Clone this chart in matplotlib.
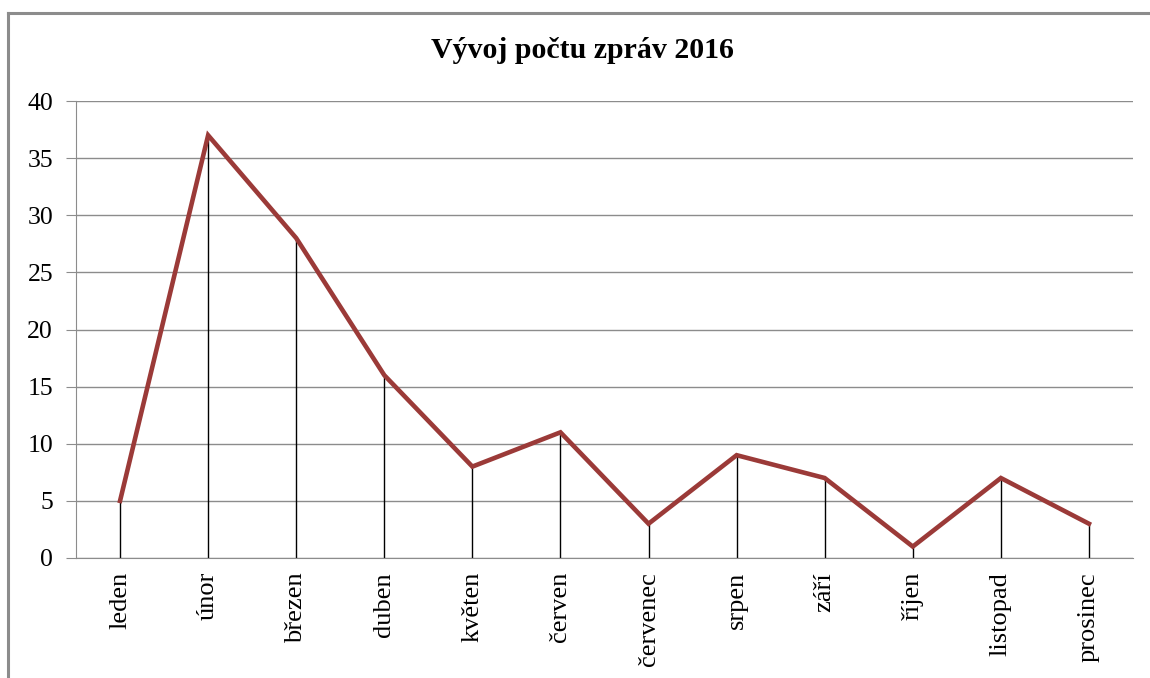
import matplotlib.pyplot as plt
from matplotlib.lines import Line2D

months = ['leden', 'únor', 'březen', 'duben', 'květen', 'červen',
          'červenec', 'srpen', 'září', 'říjen', 'listopad', 'prosinec']
counts = [5, 37, 28, 16, 8, 11, 3, 9, 7, 1, 7, 3]
yticks = [0, 5, 10, 15, 20, 25, 30, 35, 40]

plt.rcParams['font.family'] = ['Liberation Serif', 'DejaVu Serif']

W, H = 1150, 678
fig = plt.figure(figsize=(W / 100, H / 100), dpi=100)

# outer chart frame (top and left visible, rest runs off the picture)
fig.add_artist(Line2D([8 / W, 1.0], [1 - 13 / H, 1 - 13 / H], color='#8c8c8c', lw=2.2))
fig.add_artist(Line2D([8 / W, 8 / W], [0, 1 - 13 / H], color='#8c8c8c', lw=2.2))

ax = fig.add_axes([76 / W, 1 - 558 / H, (1133 - 76) / W, (558 - 101) / H])

x = [i + 0.5 for i in range(len(months))]
ax.vlines(x, 0, counts, color='black', lw=1, zorder=2)
ax.plot(x, counts, color='#9b3a38', lw=3.3, solid_joinstyle='miter', zorder=3)

ax.set_xlim(0, len(months))
ax.set_ylim(0, 40)
ax.set_yticks(yticks)
ax.set_xticks(x)
ax.set_xticklabels(months, rotation=90, fontsize=19)
ax.tick_params(axis='y', labelsize=18.5, length=7.5, color='#8c8c8c', pad=9)
ax.tick_params(axis='x', length=0, pad=10)
ax.grid(axis='y', color='#8c8c8c', lw=1)
ax.set_axisbelow(True)
for s in ['top', 'right']:
    ax.spines[s].set_visible(False)
ax.spines['left'].set_color('#8c8c8c')
ax.spines['bottom'].set_color('#8c8c8c')

fig.text(582 / W, 1 - 50 / H, 'Vývoj počtu zpráv 2016', ha='center', va='center',
         fontsize=21.5, fontweight='bold')

fig.savefig('out.png', dpi=100)
